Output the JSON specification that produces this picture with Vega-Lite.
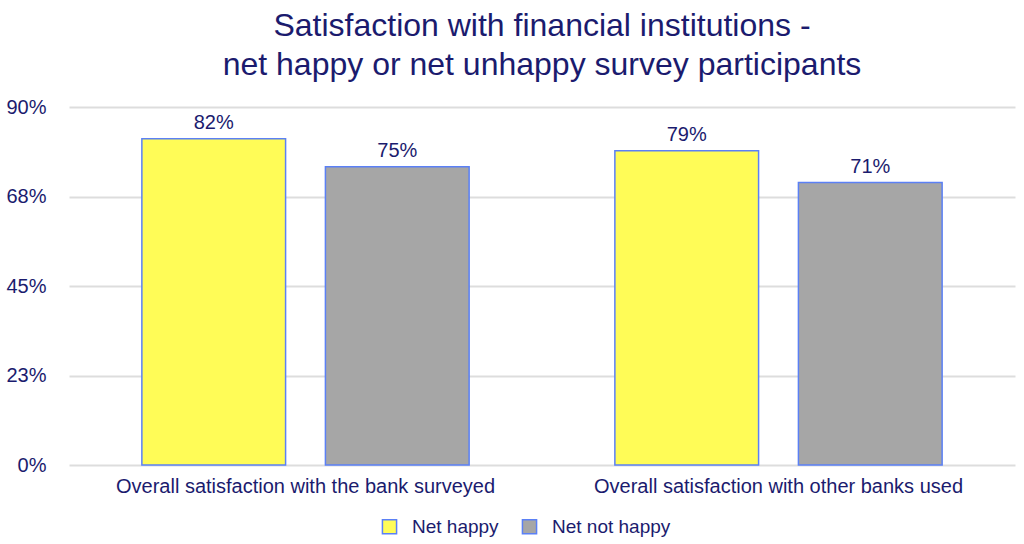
{
  "$schema": "https://vega.github.io/schema/vega-lite/v6.json",
  "autosize": {"type": "none"},
  "padding": {"left": 69, "top": 107, "right": 9, "bottom": 79},
  "width": 946,
  "height": 358,
  "background": "white",
  "title": {
    "text": ["Satisfaction with financial institutions -", "net happy or net unhappy survey participants"],
    "font": "Liberation Sans",
    "fontSize": 32,
    "fontWeight": "normal",
    "color": "#1B1B6E",
    "lineHeight": 39,
    "anchor": "middle",
    "offset": 15
  },
  "data": {
    "values": [
      {"question": "Overall satisfaction with the bank surveyed", "group": "Net happy", "share": 0.82},
      {"question": "Overall satisfaction with the bank surveyed", "group": "Net not happy", "share": 0.75},
      {"question": "Overall satisfaction with other banks used", "group": "Net happy", "share": 0.79},
      {"question": "Overall satisfaction with other banks used", "group": "Net not happy", "share": 0.71}
    ]
  },
  "encoding": {
    "x": {
      "field": "question",
      "type": "nominal",
      "sort": null,
      "scale": {"paddingInner": 0, "paddingOuter": 0},
      "axis": {
        "title": null,
        "labelAngle": 0,
        "labelLimit": 0,
        "ticks": false,
        "domain": false,
        "labelFont": "Liberation Sans",
        "labelFontSize": 20,
        "labelColor": "#1B1B6E",
        "labelPadding": 11
      }
    },
    "xOffset": {
      "field": "group",
      "type": "nominal",
      "scale": {"paddingInner": 0.217, "paddingOuter": 0.397}
    },
    "y": {
      "field": "share",
      "type": "quantitative",
      "scale": {"domain": [0, 0.9]},
      "axis": {
        "title": null,
        "values": [0, 0.225, 0.45, 0.675, 0.9],
        "labelExpr": "round(datum.value * 100) + '%'",
        "domain": false,
        "ticks": false,
        "labelFont": "Liberation Sans",
        "labelFontSize": 20,
        "labelColor": "#1B1B6E",
        "labelPadding": 23,
        "gridColor": "#DDDDDD",
        "gridWidth": 2
      }
    }
  },
  "layer": [
    {
      "mark": {"type": "bar", "stroke": "#5B80F5", "strokeWidth": 1.5},
      "encoding": {
        "color": {
          "field": "group",
          "type": "nominal",
          "scale": {"domain": ["Net happy", "Net not happy"], "range": ["#FFFC57", "#A6A6A6"]},
          "legend": {
            "title": null,
            "orient": "none",
            "legendX": 311,
            "legendY": 410,
            "direction": "horizontal",
            "symbolType": "square",
            "symbolSize": 200,
            "symbolStrokeColor": "#5B80F5",
            "symbolStrokeWidth": 1.5,
            "symbolOffset": 0,
            "labelOffset": 13,
            "labelFont": "Liberation Sans",
            "labelFontSize": 19,
            "labelColor": "#1B1B6E",
            "columnPadding": 20
          }
        }
      }
    },
    {
      "mark": {"type": "text", "dy": -16, "font": "Liberation Sans", "fontSize": 20, "color": "#1B1B6E"},
      "encoding": {
        "text": {"field": "share", "type": "quantitative", "format": ".0%"}
      }
    }
  ],
  "config": {
    "view": {"stroke": null}
  }
}
